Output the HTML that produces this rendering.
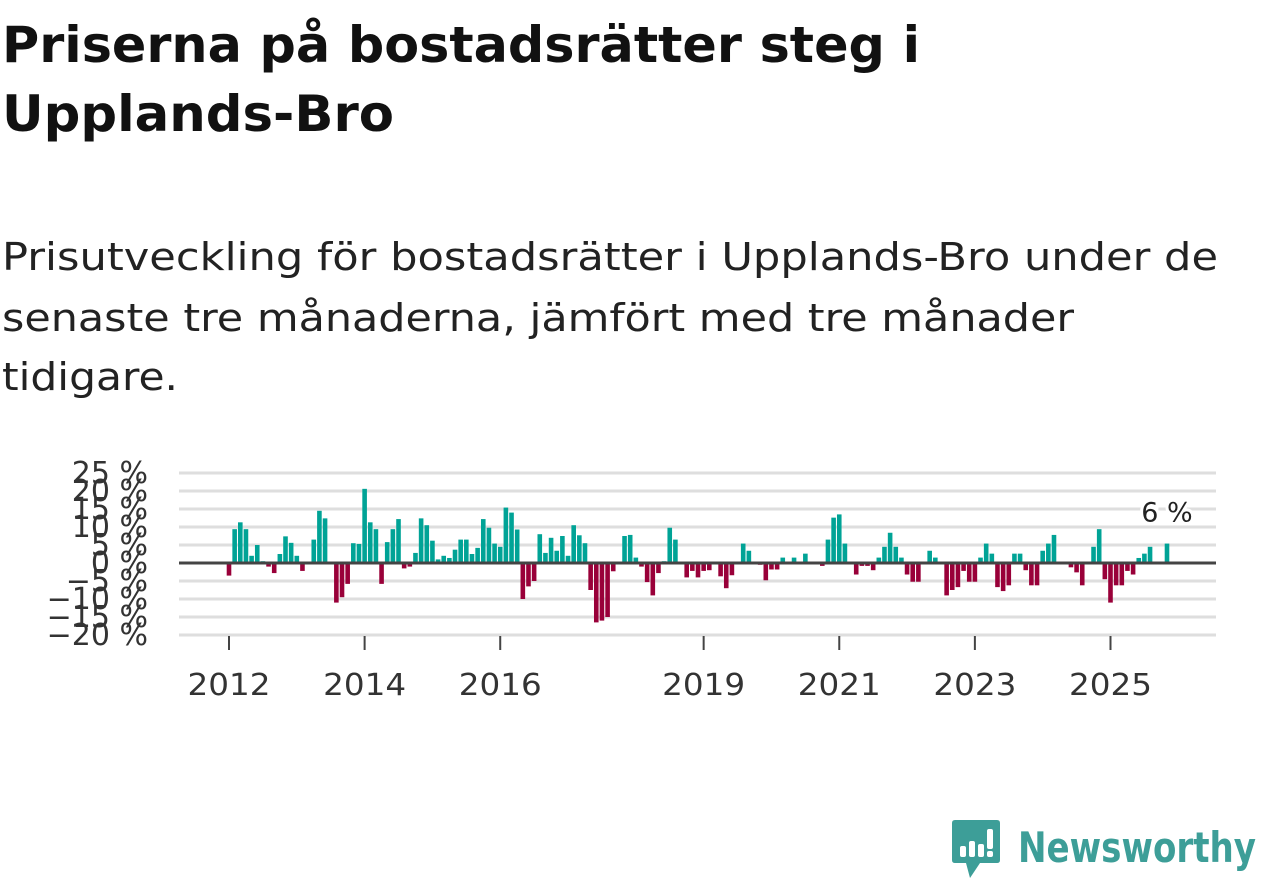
<!DOCTYPE html>
<html><head><meta charset="utf-8">
<style>
html,body{margin:0;padding:0;background:#fff;}
body{width:1262px;height:879px;position:relative;overflow:hidden;font-family:"DejaVu Sans",sans-serif;color:#111;}
svg{position:absolute;left:0;top:0;}
</style></head><body>
<svg width="1262" height="400" style="font-family:'DejaVu Sans',sans-serif">
<text font-weight="bold" font-size="50" fill="#111">
<tspan x="2" y="62" textLength="918" lengthAdjust="spacingAndGlyphs">Priserna på bostadsrätter steg i</tspan>
<tspan x="2" y="131" textLength="392" lengthAdjust="spacingAndGlyphs">Upplands-Bro</tspan>
</text>
<text font-size="38" fill="#222">
<tspan x="2" y="270" textLength="1216" lengthAdjust="spacingAndGlyphs">Prisutveckling för bostadsrätter i Upplands-Bro under de</tspan>
<tspan x="2" y="331" textLength="1072" lengthAdjust="spacingAndGlyphs">senaste tre månaderna, jämfört med tre månader</tspan>
<tspan x="2" y="390" textLength="176" lengthAdjust="spacingAndGlyphs">tidigare.</tspan>
</text>
</svg>
<svg id="chart" width="1262" height="879"></svg>
<div style="position:absolute;left:952px;top:820px;width:310px;height:59px;">
<svg width="50" height="60" style="position:absolute;left:0;top:0">
<path d="M3 0 H45 Q48 0 48 3 V40 Q48 43 45 43 H28 L18 58 L14 43 H3 Q0 43 0 40 V3 Q0 0 3 0 Z" fill="#3d9e98"/>
<rect x="8" y="26" width="6" height="11" rx="2" fill="#fff"/>
<rect x="17" y="21" width="6" height="16" rx="2" fill="#fff"/>
<rect x="26" y="24" width="6" height="13" rx="2" fill="#fff"/>
<rect x="35" y="9" width="6" height="20" rx="2" fill="#fff"/>
<rect x="35" y="31" width="6" height="6" rx="2" fill="#fff"/>
</svg>
<svg width="310" height="59" style="position:absolute;left:0;top:0">
<text x="66" y="42" font-size="42" font-weight="bold" fill="#3d9e98" font-family="DejaVu Sans, sans-serif" textLength="238" lengthAdjust="spacingAndGlyphs">Newsworthy</text>
</svg>
</div>
<script>
const values = [-3.5,9.4,11.3,9.4,2,5,0.5,-1,-2.8,2.5,7.4,5.6,2,-2.2,0,6.5,14.5,12.4,0,-11,-9.5,-5.8,5.5,5.3,20.6,11.3,9.4,-5.8,5.8,9.4,12.2,-1.5,-1,2.8,
12.4,10.5,6.2,1,2,1.4,3.7,6.5,6.5,2.5,4.2,12.2,9.8,5.4,4.5,15.4,14,9.3,-10,-6.5,-5,8,2.8,7,3.4,7.5,2,10.5,7.7,5.5,-7.5,-16.5,-16,-15,
-2.3,0,7.5,7.8,1.5,-1,-5.3,-9,-2.8,0.5,9.8,6.5,0,-4,-2.2,-4,-2.2,-2,0,-3.7,-7,-3.4,0,5.4,3.4,0.4,-0.5,-4.8,-1.8,-1.8,1.5,0,1.5,0,2.6,
0.4,0.4,-0.8,6.5,12.6,13.5,5.4,0,-3.2,-0.8,-0.8,-2,1.5,4.5,8.4,4.5,1.5,-3.2,-5.2,-5.2,0,3.4,1.5,0,-9,-7.5,-6.7,-2.2,-5.2,-5.2,1.5,5.4,2.6,-6.7,-7.8,
-6.2,2.6,2.6,-2,-6.2,-6.2,3.4,5.4,7.8,0.4,0.4,-1.2,-2.6,-6.2,0.4,4.5,9.4,-4.5,-11,-6.2,-6.2,-2.2,-3.2,1.4,2.6,4.5,0,0.4,5.4];
const yTicks = [25,20,15,10,5,0,-5,-10,-15,-20];
const yTickLabels = ["25 %","20 %","15 %","10 %","5 %","0 %","−5 %","−10 %","−15 %","−20 %"];
const xTickYears = [2012,2014,2016,2019,2021,2023,2025];
const lastLabel = "6 %";

const NS="http://www.w3.org/2000/svg";
const svg=document.getElementById('chart');
const x0=229, step=(1167-229)/166;
const yearPx=step*12;
function xScale(i){return x0+i*step;}
function xYear(yr){return 229+(yr-2012)*yearPx;}
function yScale(v){return 563-v*3.6;}
function mk(tag,attrs){const e=document.createElementNS(NS,tag);for(const k in attrs)e.setAttribute(k,attrs[k]);svg.appendChild(e);return e;}
const FF='DejaVu Sans, sans-serif';

yTicks.forEach((t,i)=>{
  if(t!==0){
    const g=mk('line',{x1:179,x2:1216,y1:yScale(t),y2:yScale(t),stroke:'#dedede','stroke-width':3});
    
    
  }
  const tx=mk('text',{x:148,y:yScale(t)+10,'text-anchor':'end','font-size':30,fill:'#333','font-family':FF});
  tx.textContent=yTickLabels[i];
  
  
});
values.forEach((v,i)=>{
  const y=v>=0?yScale(v):yScale(0);
  const h=Math.abs(yScale(v)-yScale(0));
  const r=mk('rect',{x:xScale(i)-2.3,y:y,width:4.6,height:h,fill:v>=0?'#00a396':'#990039'});
  
  
});
const zl=mk('line',{x1:179,x2:1216,y1:yScale(0),y2:yScale(0),stroke:'#444','stroke-width':3});


xTickYears.forEach(yr=>{
  const x=xYear(yr);
  const tk=mk('line',{x1:x,x2:x,y1:636,y2:650,stroke:'#444','stroke-width':2});
  
  
  const tx=mk('text',{x:x,y:695,'text-anchor':'middle','font-size':30,fill:'#333','font-family':FF,textLength:83,lengthAdjust:'spacingAndGlyphs'});
  tx.textContent=yr;
  
  
});
const lastI=values.length-1;
const ll=mk('text',{x:xScale(lastI),y:yScale(values[lastI])-22,'text-anchor':'middle','font-size':27,fill:'#222','font-family':FF,stroke:'#fff','stroke-width':6,'paint-order':'stroke'});
ll.textContent=lastLabel;


</script>
</body></html>
